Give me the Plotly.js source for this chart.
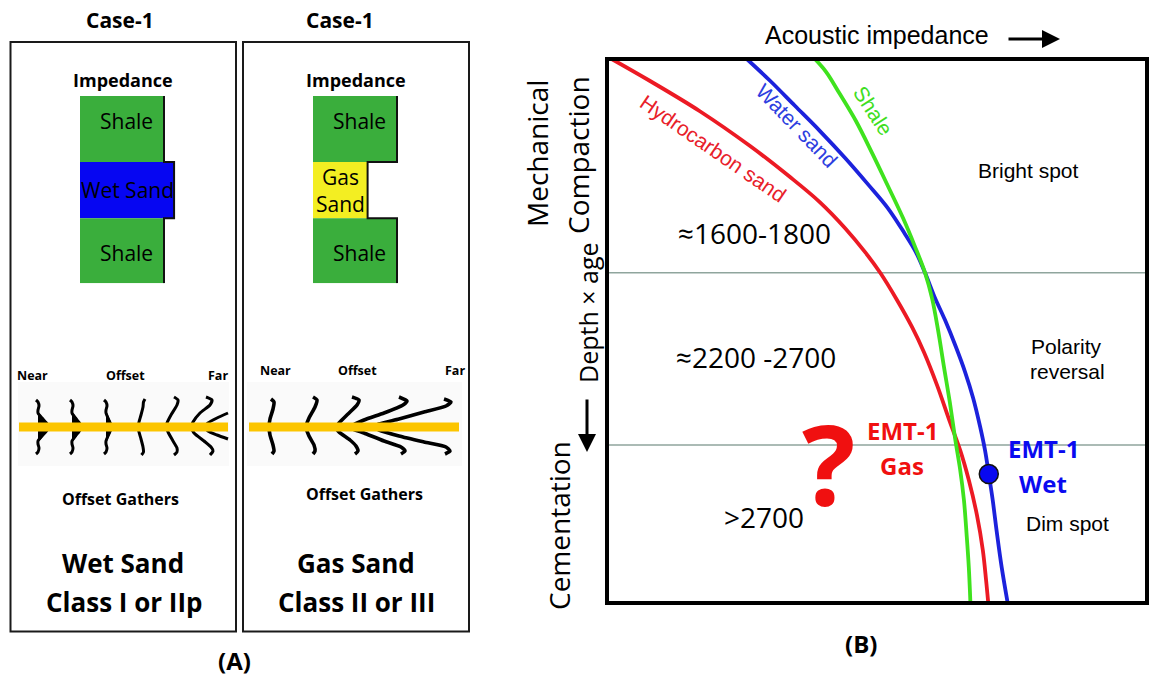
<!DOCTYPE html>
<html><head><meta charset="utf-8">
<script src="https://cdn.plot.ly/plotly-3.0.1.min.js"></script>
<style>html,body{margin:0;padding:0;background:#fff}#chart{width:1157px;height:676px}</style>
</head><body><div id="chart"></div>
<script>
const W = 1157, H = 676;

// ---------- Panel A data ----------
const layerThickness = [66, 56, 65];
const wetLayerNames = ['Shale', 'Wet Sand', 'Shale'];
const gasLayerNames = ['Shale', 'Gas<br>Sand', 'Shale'];
const wetImpedance = [1.0, 1.12, 1.0];
const gasImpedance = [1.0, 0.65, 1.0];

// offset gathers (offset position, two-way time relative to the sand top)
const wetGatherX = [
  [17,19,20,19,19,23,27,30,27,23,19,19,20,19,17],
  [51,53,54,53,53,56.5,60,63,60,56.5,53,53,54,53,51],
  [85,87,88,87,87,89,91,93,91,89,87,87,88,87,85],
  [126,124.5,124,122,120,119,120,122,124,124.5,122.5],
  [155,159,158,152,148,147,149,154,158,158,155],
  [187,193,191,181,174,172,175,185,192,194,191],
  [209,198,189,186,189,198,209]
];
const wetGatherT = [
  [-27,-25,-21,-17,-14,-9,-4.5,0,4.5,9,14,17,21,25,27],
  [-27,-25,-21,-17,-14,-9,-4.5,0,4.5,9,14,17,21,25,27],
  [-27,-25,-21,-17,-14,-9,-4.5,0,4.5,9,14,17,21,25,27],
  [-28,-25,-20,-12,-5,0,5,12,20,25,28],
  [-30,-27,-22,-12,-4,0,5,14,21,25,28],
  [-30,-27,-22,-14,-5,0,6,14,20,24,28],
  [-14,-9,-4,0,4,8,12]
];
const wetLobeX = [
  [19,23,27,30,27,23,19],
  [53,56.5,60,63,60,56.5,53],
  [87,89,91,93,91,89,87]
];
const wetLobeT = [-14,-9,-4.5,0,4.5,9,14];

const gasGatherX = [
  [22,25,24,21,20,21,24,25,23],
  [64,68,66,60,57,60,65,66,64],
  [103,110,108,99,90,87,90,101,107,109,106],
  [150,158,154,135,115,103,102,115,135,152,156,152],
  [195,202,197,175,150,130,125,130,150,175,197,201,196]
];
const gasGatherT = [
  [-28,-25,-18,-8,0,8,18,24,27],
  [-30,-27,-20,-9,0,9,18,24,27],
  [-30,-27,-22,-13,-4,0,5,13,19,24,27],
  [-30,-26,-22,-14,-7,-1,1,6,14,20,24,27],
  [-28,-25,-21,-15,-8,-3,0,3,9,15,20,24,27]
];
const reflectorExtent = [0, 209];

// ---------- Panel B data (relative acoustic impedance vs relative depth x age) ----------
const hcSandImp   = [0.87,7.9,17.2,26.5,33.9,39.4,44.1,47.8,50.6,53.7,56.5,58.7,61.1,63.5,65.4,67.0,68.5,69.6,70.2,70.6];
const hcSandDepth = [0,4.0,9.6,16.0,21.7,26.3,31.1,35.5,39.3,44.3,49.3,53.9,59.9,66.7,71.9,77.4,83.8,90.3,95.8,100];
const waterSandImp   = [25.9,30.2,34.8,39.4,44.1,48.3,52.0,55.2,57.2,58.9,60.6,62.6,64.6,66.3,67.8,69.1,70.0,70.7,71.4,72.2,73.1,74.2];
const waterSandDepth = [0,4.0,8.6,13.2,18.2,23.0,27.4,32.2,35.5,39.3,43.6,48.0,52.9,57.5,62.3,67.6,71.9,76.3,80.9,87.1,93.5,100];
const shaleImp   = [38.5,40.6,43.1,46.1,49.1,52.0,54.8,57.0,58.9,60.2,61.3,62.4,63.5,64.5,65.4,66.1,66.6,67.0,67.3];
const shaleDepth = [0,2.4,6.4,11.4,17.3,23.3,29.2,34.4,39.3,44.0,49.8,56.6,63.2,70.0,75.5,81.1,87.5,93.4,100];
const zoneBoundaryDepth = [39.3, 70.96];
const emt1WetImp = [70.7];
const emt1WetDepth = [76.3];

// ---------- helpers ----------
const fx = p => p / W;
const fy = p => 1 - p / H;
const cum = arr => { let s = 0; return arr.map(v => { const c = s + v / 2; s += v; return c; }); };
const layerCenters = cum(layerThickness);
const totalThick = layerThickness.reduce((a, b) => a + b, 0);

const GREEN = '#3aae3c', BLUE = '#0606f2', YELLOW = '#f3ee22';
const wetColors = [GREEN, BLUE, GREEN];
const gasColors = [GREEN, YELLOW, GREEN];
const OS = 'Open Sans, Noto Sans, sans-serif';
const AR = 'Liberation Sans, Arial, sans-serif';

const traces = [];

function blockTraces(imp, colors, xa, ya) {
  traces.push({
    type: 'bar', orientation: 'h', x: imp, y: layerCenters, width: layerThickness, base: 0,
    marker: {color: colors, line: {width: 0}}, xaxis: xa, yaxis: ya, hoverinfo: 'skip', showlegend: false
  });
  const ox = [], oy = [];
  let s = 0;
  imp.forEach((v, i) => { ox.push(v, v); oy.push(s, s + layerThickness[i]); s += layerThickness[i]; });
  traces.push({type: 'scatter', mode: 'lines', x: ox, y: oy, line: {color: '#111', width: 2},
    xaxis: xa, yaxis: ya, hoverinfo: 'skip', showlegend: false});
}
blockTraces(wetImpedance, wetColors, 'x', 'y');
blockTraces(gasImpedance, gasColors, 'x2', 'y2');

function gatherTraces(gx, gt, xa, ya, w) {
  gx.forEach((xs, i) => traces.push({
    type: 'scatter', mode: 'lines', x: xs, y: gt[i], line: {color: '#000', width: w, shape: 'spline', smoothing: 0.6},
    xaxis: xa, yaxis: ya, hoverinfo: 'skip', showlegend: false
  }));
}
wetLobeX.forEach(xs => traces.push({
  type: 'scatter', mode: 'lines', x: xs, y: wetLobeT, fill: 'toself', fillcolor: '#000',
  line: {color: '#000', width: 2}, xaxis: 'x3', yaxis: 'y3', hoverinfo: 'skip', showlegend: false
}));
gatherTraces(wetGatherX, wetGatherT, 'x3', 'y3', 3);
gatherTraces(gasGatherX, gasGatherT, 'x4', 'y4', 3.6);
['x3', 'x4'].forEach((xa, i) => traces.push({
  type: 'scatter', mode: 'lines', x: [reflectorExtent[0], reflectorExtent[1] + i], y: [0, 0],
  line: {color: '#fcc500', width: 9}, xaxis: xa, yaxis: i ? 'y4' : 'y3', hoverinfo: 'skip', showlegend: false
}));

// Panel B curves
[[hcSandImp, hcSandDepth, '#ec1a24'], [waterSandImp, waterSandDepth, '#1c22dc'], [shaleImp, shaleDepth, '#3fe21e']]
  .forEach(([x, y, c]) => traces.push({
    type: 'scatter', mode: 'lines', x, y, line: {color: c, width: 3.8, shape: 'spline', smoothing: 1},
    xaxis: 'x5', yaxis: 'y5', hoverinfo: 'skip', showlegend: false
  }));
traces.push({type: 'scatter', mode: 'markers', x: emt1WetImp, y: emt1WetDepth,
  marker: {size: 19, color: '#0808f0', line: {color: '#111', width: 1.5}},
  xaxis: 'x5', yaxis: 'y5', hoverinfo: 'skip', showlegend: false, cliponaxis: false});

// ---------- axes ----------
const hid = {visible: false, fixedrange: true, showgrid: false, zeroline: false};
const impRange = [0, 120 / 84];
const layout = {
  width: W, height: H, margin: {l: 0, r: 0, t: 0, b: 0},
  paper_bgcolor: '#fff', plot_bgcolor: 'rgba(0,0,0,0)', showlegend: false, barmode: 'overlay',
  xaxis:  Object.assign({}, hid, {domain: [fx(80), fx(200)], range: impRange, anchor: 'y'}),
  yaxis:  Object.assign({}, hid, {domain: [fy(283.3), fy(96)], range: [totalThick, 0], anchor: 'x'}),
  xaxis2: Object.assign({}, hid, {domain: [fx(313), fx(433)], range: impRange, anchor: 'y2'}),
  yaxis2: Object.assign({}, hid, {domain: [fy(283.3), fy(96)], range: [totalThick, 0], anchor: 'x2'}),
  xaxis3: Object.assign({}, hid, {domain: [fx(19), fx(229)], range: [0, 210], anchor: 'y3'}),
  yaxis3: Object.assign({}, hid, {domain: [fy(462), fy(392)], range: [35, -35], anchor: 'x3'}),
  xaxis4: Object.assign({}, hid, {domain: [fx(249), fx(459)], range: [0, 210], anchor: 'y4'}),
  yaxis4: Object.assign({}, hid, {domain: [fy(462), fy(392)], range: [35, -35], anchor: 'x4'}),
  xaxis5: Object.assign({}, hid, {domain: [fx(607), fx(1147)], range: [0, 100], anchor: 'y5'}),
  yaxis5: Object.assign({}, hid, {domain: [fy(603), fy(59)], range: [100, 0], anchor: 'x5'}),
  shapes: [], annotations: []
};

// boxes of panel A
[[10.5, 236], [243, 469]].forEach(([a, b]) => layout.shapes.push({
  type: 'rect', xref: 'paper', yref: 'paper', x0: fx(a), x1: fx(b), y0: fy(631.5), y1: fy(42),
  line: {color: '#1a1a1a', width: 2}, layer: 'below'
}));
[[18, 229], [247, 462]].forEach(([a, b]) => layout.shapes.push({
  type: 'rect', xref: 'paper', yref: 'paper', x0: fx(a), x1: fx(b), y0: fy(466), y1: fy(382),
  line: {width: 0}, fillcolor: '#fafafa', layer: 'below'
}));
// zone boundaries and frame of panel B
zoneBoundaryDepth.forEach(d => layout.shapes.push({
  type: 'line', xref: 'x5 domain', yref: 'y5', x0: 0, x1: 1, y0: d, y1: d,
  line: {color: '#8fa59d', width: 1.6}, layer: 'below'
}));
layout.shapes.push({type: 'rect', xref: 'x5 domain', yref: 'y5 domain', x0: 0, x1: 1, y0: 0, y1: 1,
  line: {color: '#000', width: 4}, layer: 'above'});

// ---------- annotations ----------
const A = layout.annotations;
function t2(t, x, y, size, family, color, weight, angle) {
  A.push({text: t, xref: 'paper', yref: 'paper', x: fx(x), y: fy(y), xanchor: 'center', yanchor: 'middle',
    showarrow: false, textangle: angle || 0, font: {family: family, size: size, color: color || '#000', weight: weight || 400}});
}

// Panel A labels
t2('Case-1', 120, 19.5, 21, OS, '#000', 700);
t2('Case-1', 340, 19.5, 21, OS, '#000', 700);
t2('Impedance', 122.7, 80, 18, OS, '#000', 700);
t2('Impedance', 356, 80, 18, OS, '#000', 700);
// block labels from layer arrays
[[wetLayerNames, wetImpedance, 'x', 'y'], [gasLayerNames, gasImpedance, 'x2', 'y2']].forEach(([names, imp, xa, ya]) => {
  names.forEach((n, i) => A.push({
    text: n, xref: xa, yref: ya, x: imp[i] / 2, y: layerCenters[i], xanchor: 'center', yanchor: 'middle',
    xshift: (n === 'Shale') ? 4 : 0, yshift: i === 0 ? 8 : (i === 2 ? -2 : 0),
    showarrow: false, font: {family: OS, size: 21, color: '#000'}
  }));
});
t2('Near', 32.7, 375, 12.5, OS, '#000', 700);
t2('Offset', 125.3, 375, 12.5, OS, '#000', 700);
t2('Far', 218.3, 375, 12.5, OS, '#000', 700);
t2('Near', 275, 370, 12.5, OS, '#000', 700);
t2('Offset', 357.7, 370, 12.5, OS, '#000', 700);
t2('Far', 455, 370, 12.5, OS, '#000', 700);
t2('Offset Gathers', 120.7, 499, 16, OS, '#000', 700);
t2('Offset Gathers', 364.3, 494.3, 16, OS, '#000', 700);
t2('Wet Sand', 123, 563.3, 26, OS, '#000', 700);
t2('Class I or IIp', 124, 601.7, 26, OS, '#000', 700);
t2('Gas Sand', 355.5, 563.3, 26, OS, '#000', 700);
t2('Class II or III', 356, 601.7, 26, OS, '#000', 700);
t2('(A)', 234, 660, 24, OS, '#000', 700);

// Panel B labels
t2('Acoustic impedance', 877, 35, 25, AR);
A.push({text: '', xref: 'paper', yref: 'paper', x: fx(1060), y: fy(39), ax: -53, ay: 0, showarrow: true,
  arrowhead: 2, arrowsize: 1.2, arrowwidth: 3, arrowcolor: '#000'});
t2('Mechanical', 537, 154, 28, OS, '#000', 400, -90);
t2('Compaction', 578, 155, 28, OS, '#000', 400, -90);
t2('Depth × age', 588, 313, 25, OS, '#000', 400, -90);
A.push({text: '', xref: 'paper', yref: 'paper', x: fx(587), y: fy(452), ax: 0, ay: -54, showarrow: true,
  arrowhead: 2, arrowsize: 1.2, arrowwidth: 3, arrowcolor: '#000'});
t2('Cementation', 559, 526, 28, OS, '#000', 400, -90);
t2('≈1600-1800', 754, 233, 28, OS);
t2('≈2200 -2700', 756, 356.7, 28, OS);
t2('>2700', 764, 516.7, 28, OS);
t2('Hydrocarbon sand', 713, 149, 21, AR, '#e8202a', 400, 34.5);
t2('Water sand', 797, 125, 21, AR, '#2d3ee0', 400, 46);
t2('Shale', 873.5, 110, 21, AR, '#3ede22', 400, 57);
t2('Bright spot', 1028.5, 170, 21, AR);
t2('Polarity', 1066, 346.7, 21, AR);
t2('reversal', 1067, 371.7, 21, AR);
t2('Dim spot', 1067, 523.3, 21, AR);
t2('?', 829, 462, 112, OS, '#f01010', 700);
t2('EMT-1', 902.5, 430, 24, OS, '#f01010', 700);
t2('Gas', 902, 465, 24, OS, '#f01010', 700);
t2('EMT-1', 1043.7, 448.3, 24, OS, '#0a0af0', 700);
t2('Wet', 1043, 483.3, 24, OS, '#0a0af0', 700);
t2('(B)', 861, 643, 24, OS, '#000', 700);

Plotly.newPlot('chart', traces, layout, {staticPlot: true, displayModeBar: false});
</script></body></html>
